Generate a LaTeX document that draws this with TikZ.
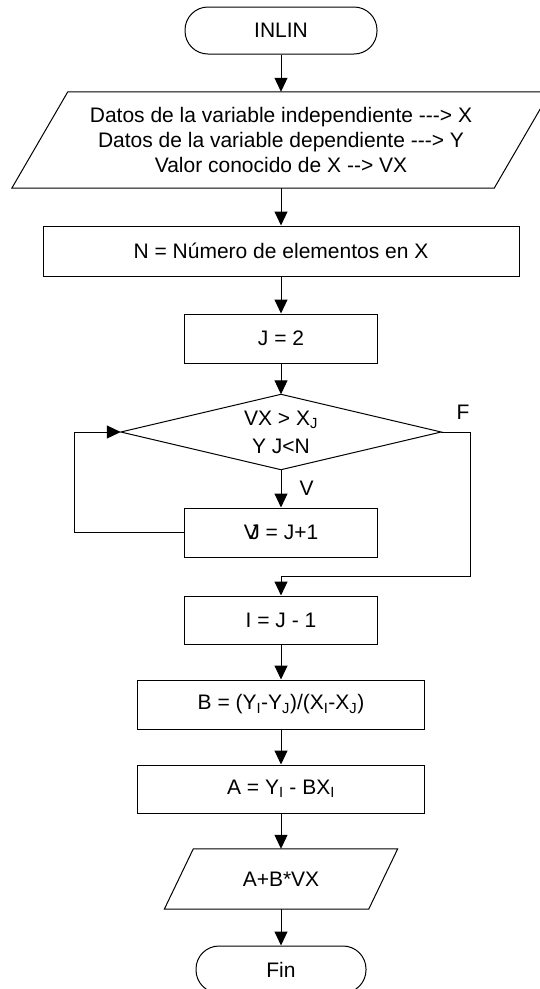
\documentclass[tikz,border=0pt]{standalone}
\usepackage{fontspec}
\setmainfont{Liberation Sans}
\usetikzlibrary{arrows.meta}

% plain hyphens, kept apart so they do not merge into dashes
\newcommand{\hy}{-\kern0pt}

\begin{document}
\begin{tikzpicture}[x=1pt,y=-1pt,
  every node/.style={font=\fontsize{21}{25}\selectfont, text=black},
  line/.style={draw=black, line width=1pt},
  flow/.style={line, -{Triangle[length=14pt,width=13pt]}},
  procbox/.style={draw=black, line width=1pt, rectangle, minimum height=49pt, inner sep=0pt},
  terminal/.style={draw=black, line width=1pt, rectangle, rounded corners=23pt, minimum height=47pt, inner sep=0pt},
  holder/.style={rectangle, inner sep=0pt, align=center},
  tag/.style={inner sep=0pt},
]
\useasboundingbox (0,0) rectangle (540,989);

% start / end terminals
\node[terminal, minimum width=192pt] (start) at (281,30.5) {INLIN};
\node[terminal, minimum width=170pt] (finish) at (281,969.5) {Fin};

% data input (parallelogram drawn around a text holder)
\node[holder, minimum width=482pt, minimum height=96pt] (input) at (281,140)
  {Datos de la variable independiente \hy\hy\hy> X\\
   Datos de la variable dependiente \hy\hy\hy> Y\\
   Valor conocido de X \hy\hy> VX};
\draw[line] ([xshift=-28pt]input.south west) -- ([xshift=-28pt]input.south east)
  -- ([xshift=28pt]input.north east) -- ([xshift=28pt]input.north west) -- cycle;

% process boxes
\node[procbox, minimum width=476pt, minimum height=50pt] (count) at (281,251) {N = Número de elementos en X};
\node[procbox, minimum width=193pt] (jinit) at (281,338.5) {J = 2};

% decision
\node[holder, minimum width=320pt, minimum height=75pt] (cond) at (281,432)
  {VX > X\textsubscript{J}\\[3pt] Y J<N};
\draw[line] (cond.north) -- (cond.east) -- (cond.south) -- (cond.west) -- cycle;

\node[procbox, minimum width=193pt] (incr) at (281,532.5) {V\kern-0.4em J = J+1};
\node[procbox, minimum width=193pt, minimum height=48pt] (idec) at (281,620) {I = J \hy\ 1};
\node[procbox, minimum width=287pt] (slope) at (281,704.5)
  {B = (Y\textsubscript{I}\hy Y\textsubscript{J})/(X\textsubscript{I}\hy X\textsubscript{J})};
\node[procbox, minimum width=287pt, minimum height=48pt] (icpt) at (281,789)
  {A = Y\textsubscript{I} \hy\ BX\textsubscript{I}};

% result output
\node[holder, minimum width=204pt, minimum height=60pt] (output) at (281,879) {A+B*VX};
\draw[line] ([xshift=-14.5pt]output.south west) -- ([xshift=-14.5pt]output.south east)
  -- ([xshift=14.5pt]output.north east) -- ([xshift=14.5pt]output.north west) -- cycle;

% routing points
\coordinate (loopx) at (74,532.5);
\coordinate (fcorner) at (470,576);

% connectors
\draw[flow] (start) -- (input);
\draw[flow] (input) -- (count);
\draw[flow] (count) -- (jinit);
\draw[flow] (jinit) -- (cond);
\draw[flow] (cond) -- node[tag, right=18pt] {V} (incr);
\draw[flow] (incr.west) -- (loopx) |- (cond.west);
\draw[flow] (cond.east) -| (fcorner) -| (idec.north);
\node[tag] (flabel) at (463,412) {F};
\draw[flow] (idec) -- (slope);
\draw[flow] (slope) -- (icpt);
\draw[flow] (icpt) -- (output);
\draw[flow] (output) -- (finish);
\end{tikzpicture}
\end{document}
